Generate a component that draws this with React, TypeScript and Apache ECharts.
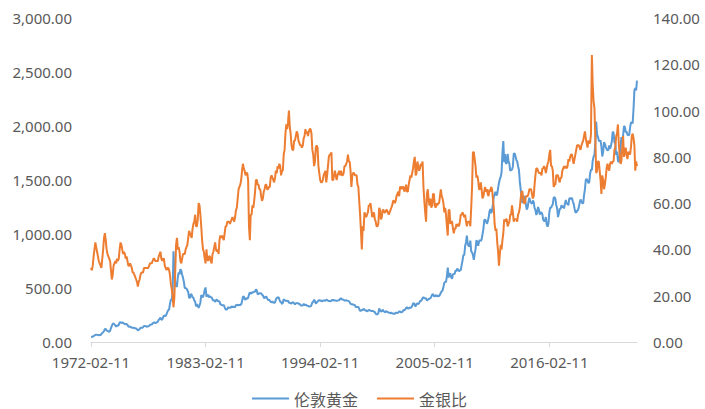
import React, { useEffect, useRef } from "react";
import * as echarts from "echarts";

// London gold price (USD/oz), monthly, from 1972-02 to 2024-07
const gold1970s = [
  48, 48, 49, 54, 60, 66, 68, 66, 65, 63, 64,
  65, 74, 84, 90, 102, 120, 120, 106, 103, 100, 94, 106,
  129, 150, 168, 172, 163, 154, 143, 154, 151, 158, 181, 183,
  176, 180, 178, 170, 167, 164, 166, 160, 144, 142, 143, 139,
  131, 131, 133, 128, 128, 125, 118, 106, 114, 117, 131, 133,
  132, 136, 148, 149, 147, 141, 143, 145, 150, 159, 161, 161,
  173, 178, 183, 175, 177, 183, 189, 206, 212, 227, 206, 208,
  227, 245, 242, 239, 257, 279, 295, 301, 355, 392, 392, 456,
];
const gold1980s = [
  840, 665, 554, 517, 513, 600, 644, 627, 674, 661, 623, 594,
  557, 500, 499, 495, 479, 461, 409, 410, 444, 437, 413, 410,
  384, 374, 330, 350, 334, 315, 339, 364, 435, 422, 414, 444,
  481, 505, 420, 432, 438, 413, 422, 416, 412, 394, 382, 388,
  371, 386, 394, 381, 377, 378, 348, 348, 341, 340, 341, 320,
  303, 299, 304, 324, 317, 317, 317, 330, 324, 326, 325, 322,
  345, 339, 346, 340, 342, 343, 348, 376, 418, 423, 398, 391,
  408, 401, 409, 438, 460, 450, 450, 461, 460, 465, 467, 487,
  477, 442, 444, 452, 451, 451, 438, 432, 413, 406, 420, 419,
  404, 388, 390, 384, 371, 368, 375, 365, 362, 367, 393, 409,
];
const gold1990s = [
  410, 417, 393, 374, 369, 352, 362, 395, 389, 381, 381, 378,
  383, 364, 363, 358, 357, 366, 368, 356, 349, 358, 360, 361,
  354, 354, 345, 338, 337, 340, 353, 340, 345, 344, 335, 334,
  329, 329, 330, 342, 367, 372, 392, 379, 355, 364, 374, 383,
  387, 382, 384, 377, 381, 385, 385, 380, 391, 389, 384, 379,
  379, 377, 382, 391, 385, 387, 386, 383, 383, 383, 386, 387,
  400, 405, 396, 393, 392, 385, 383, 387, 383, 381, 378, 369,
  355, 347, 352, 344, 344, 341, 324, 324, 323, 325, 306, 289,
  289, 297, 296, 308, 299, 292, 293, 284, 289, 296, 294, 291,
  287, 287, 286, 282, 277, 262, 256, 257, 265, 311, 293, 283,
];
const gold2000s = [
  284, 300, 286, 280, 275, 286, 282, 275, 273, 270, 266, 272,
  266, 262, 263, 261, 272, 270, 268, 273, 283, 283, 276, 275,
  282, 296, 294, 302, 314, 321, 313, 310, 319, 317, 319, 333,
  357, 359, 340, 328, 355, 356, 351, 360, 379, 379, 389, 407,
  414, 405, 406, 404, 384, 392, 398, 400, 406, 420, 439, 442,
  424, 423, 434, 429, 422, 430, 424, 437, 456, 470, 476, 510,
  549, 555, 557, 610, 690, 596, 633, 632, 598, 586, 628, 629,
  631, 665, 655, 680, 667, 655, 665, 665, 712, 754, 806, 803,
  889, 922, 985, 909, 888, 889, 939, 839, 829, 806, 761, 816,
  858, 943, 924, 890, 928, 946, 934, 949, 996, 1043, 1127, 1135,
];
const gold2010s = [
  1118, 1095, 1113, 1148, 1205, 1232, 1193, 1215, 1271, 1343, 1370, 1391,
  1356, 1372, 1424, 1474, 1510, 1529, 1572, 1756, 1860, 1665, 1739, 1652,
  1656, 1742, 1673, 1650, 1585, 1596, 1594, 1626, 1744, 1747, 1721, 1685,
  1671, 1627, 1593, 1487, 1414, 1343, 1286, 1347, 1349, 1316, 1275, 1225,
  1244, 1300, 1336, 1299, 1288, 1279, 1311, 1296, 1239, 1222, 1176, 1200,
  1250, 1227, 1179, 1198, 1199, 1181, 1131, 1117, 1125, 1157, 1086, 1068,
  1097, 1200, 1246, 1242, 1261, 1276, 1337, 1341, 1326, 1266, 1238, 1157,
  1192, 1234, 1231, 1267, 1246, 1260, 1236, 1283, 1314, 1280, 1282, 1265,
  1331, 1331, 1325, 1335, 1303, 1282, 1238, 1202, 1198, 1215, 1221, 1250,
  1291, 1320, 1300, 1285, 1284, 1359, 1413, 1500, 1510, 1495, 1470, 1480,
];
const gold2020s = [
  1560, 1597, 1592, 1680, 1715, 1732, 1846, 2040, 1922, 1900, 1866, 1858,
  1867, 1808, 1718, 1760, 1850, 1834, 1807, 1785, 1775, 1777, 1820, 1790,
  1817, 1856, 1947, 1937, 1849, 1837, 1732, 1764, 1681, 1665, 1726, 1798,
  1898, 1855, 1912, 2000, 1992, 1942, 1950, 1918, 1915, 1916, 1985, 2030,
  2034, 2023, 2160, 2330, 2350, 2330, 2420,
];

// Gold / silver ratio, monthly, same dates
const ratio1970s = [
  32, 31, 33, 37, 40, 43, 41, 39, 37, 35, 34,
  33, 32, 36, 40, 45, 47, 44, 40, 38, 37, 36, 35,
  31, 27, 29, 33, 34, 35, 34, 36, 35, 36, 40, 43,
  42, 40, 38, 39, 38, 36, 37, 35, 33, 33, 34, 33,
  32, 30, 30, 29, 28, 27, 26, 24, 26, 27, 29, 30,
  30, 30, 32, 32, 32, 32, 32, 32, 33, 34, 34, 34,
  35, 36, 36, 35, 35, 35, 35, 37, 38, 39, 36, 35,
  36, 36, 33, 32, 31, 32, 32, 31, 29, 25, 23, 20,
];
const ratio1980s = [
  15, 19, 30, 42, 45, 40, 41, 39, 35, 34, 36, 38,
  38, 38, 40, 41, 42, 45, 48, 47, 46, 45, 49, 51,
  52, 55, 50, 50, 53, 60, 59, 55, 50, 44, 40, 39,
  36, 34, 40, 36, 35, 37, 37, 35, 34, 38, 39, 41,
  43, 40, 39, 40, 38, 44, 46, 45, 46, 45, 44, 47,
  50, 50, 52, 52, 52, 51, 52, 53, 54, 53, 52, 54,
  57, 58, 62, 66, 67, 68, 70, 74, 77, 75, 74, 72,
  73, 73, 70, 50, 44, 55, 55, 59, 58, 61, 65, 70,
  70, 68, 68, 66, 66, 63, 61, 62, 65, 66, 68, 68,
  66, 66, 67, 67, 71, 72, 71, 70, 69, 71, 74, 73,
];
const ratio1990s = [
  76, 75, 77, 76, 72, 74, 74, 81, 83, 90, 94, 92,
  95, 100, 93, 90, 85, 83, 83, 87, 87, 89, 91, 90,
  87, 86, 85, 85, 84, 85, 88, 89, 92, 90, 91, 89,
  91, 92, 92, 90, 83, 81, 76, 78, 84, 85, 84, 76,
  73, 70, 69, 69, 70, 72, 73, 74, 69, 72, 76, 80,
  81, 81, 82, 70, 70, 72, 74, 72, 70, 72, 73, 74,
  72, 74, 72, 72, 73, 76, 76, 77, 78, 81, 78, 78,
  74, 67, 72, 73, 73, 72, 72, 72, 68, 67, 61, 55,
  48, 40, 50, 48, 56, 55, 54, 55, 56, 59, 59, 60,
  57, 54, 55, 56, 53, 52, 50, 50, 51, 58, 57, 53,
];
const ratio2000s = [
  54, 57, 57, 56, 56, 57, 57, 56, 55, 56, 57, 58,
  59, 61, 61, 60, 61, 63, 64, 65, 63, 67, 67, 66,
  67, 67, 65, 66, 68, 65, 65, 68, 70, 72, 71, 73,
  75, 78, 80, 72, 73, 78, 76, 74, 75, 77, 76, 78,
  67, 61, 56, 52, 64, 66, 61, 59, 62, 58, 59, 64,
  64, 59, 58, 60, 59, 60, 60, 63, 66, 63, 62, 60,
  56, 58, 55, 50, 46, 57, 57, 51, 52, 52, 49, 47,
  49, 49, 51, 50, 51, 50, 52, 55, 55, 56, 55, 54,
  55, 52, 50, 52, 52, 52, 50, 58, 67, 82, 82, 79,
  76, 71, 72, 70, 66, 66, 69, 66, 62, 63, 65, 67,
];
const ratio2010s = [
  65, 66, 64, 63, 66, 65, 67, 66, 62, 58, 51, 48,
  49, 43, 39, 33, 38, 42, 40, 44, 47, 53, 52, 53,
  53, 50, 51, 52, 55, 55, 59, 56, 52, 53, 53, 53,
  52, 55, 56, 58, 62, 65, 65, 61, 60, 60, 63, 63,
  63, 64, 66, 66, 66, 64, 62, 63, 68, 72, 75, 75,
  74, 73, 73, 73, 72, 75, 75, 76, 75, 73, 75, 77,
  78, 81, 83, 76, 76, 74, 67, 68, 68, 72, 72, 72,
  70, 69, 71, 71, 74, 75, 76, 75, 76, 75, 76, 79,
  78, 80, 81, 81, 79, 77, 79, 81, 83, 85, 85, 85,
  84, 83, 85, 86, 87, 89, 91, 88, 86, 84, 87, 86,
];
const ratio2020s = [
  86, 90, 124, 111, 104, 101, 88, 73, 74, 78, 78, 74,
  70, 64, 72, 70, 66, 68, 71, 75, 77, 75, 74, 77,
  78, 77, 78, 78, 83, 84, 89, 90, 94, 86, 81, 77,
  78, 84, 89, 80, 82, 84, 81, 79, 82, 82, 81, 84,
  89, 90, 88, 85, 74, 78, 76,
];

const goldSeries = [...gold1970s, ...gold1980s, ...gold1990s, ...gold2000s, ...gold2010s, ...gold2020s];
const ratioSeries = [...ratio1970s, ...ratio1980s, ...ratio1990s, ...ratio2000s, ...ratio2010s, ...ratio2020s];

const seriesNames = ["伦敦黄金", "金银比"];
const startYear = 1972;
const startMonth = 2;
const labelDay = "11";

const categories: string[] = goldSeries.map((_, i) => {
  const m = startMonth - 1 + i;
  const y = startYear + Math.floor(m / 12);
  const mm = (m % 12) + 1;
  return `${y}-${mm < 10 ? "0" + mm : mm}-${labelDay}`;
});

const FONT = "'Noto Sans', 'Noto Sans CJK SC', sans-serif";
const TEXT = "#595959";

export default function App() {
  const ref = useRef<HTMLDivElement>(null);
  useEffect(() => {
    document.body.style.margin = "0";
    if (!ref.current) return;
    const chart = echarts.init(ref.current, null, { renderer: "svg" });
    chart.setOption({
      animation: false,
      backgroundColor: "#ffffff",
      grid: { left: 91, right: 68, top: 18, bottom: 67 },
      legend: {
        data: seriesNames,
        left: 252,
        top: 390,
        padding: 0,
        icon: "rect",
        itemWidth: 37,
        itemHeight: 2,
        itemGap: 19,
        textStyle: { color: TEXT, fontSize: 16, fontFamily: "'Noto Sans CJK SC', sans-serif", lineHeight: 17 },
      },
      xAxis: {
        type: "category",
        data: categories,
        boundaryGap: false,
        axisLine: { lineStyle: { color: "#D9D9D9", width: 1 } },
        axisTick: { show: true, interval: 131, length: 5, lineStyle: { color: "#D9D9D9" } },
        axisLabel: {
          interval: 131,
          color: TEXT,
          fontSize: 15,
          fontFamily: FONT,
          margin: 12,
          lineHeight: 15,
        },
        splitLine: { show: false },
      },
      yAxis: [
        {
          type: "value",
          min: 0,
          max: 3000,
          interval: 500,
          axisLine: { show: false },
          axisTick: { show: false },
          splitLine: { show: false },
          axisLabel: {
            color: TEXT,
            fontSize: 15,
            fontFamily: FONT,
            margin: 19,
            formatter: (v: number) =>
              v.toLocaleString("en-US", { minimumFractionDigits: 2, maximumFractionDigits: 2 }),
          },
        },
        {
          type: "value",
          position: "right",
          min: 0,
          max: 140,
          interval: 20,
          axisLine: { show: false },
          axisTick: { show: false },
          splitLine: { show: false },
          axisLabel: {
            color: TEXT,
            fontSize: 15,
            fontFamily: FONT,
            margin: 16,
            formatter: (v: number) => v.toFixed(2),
          },
        },
      ],
      series: [
        {
          name: seriesNames[0],
          type: "line",
          data: goldSeries,
          yAxisIndex: 0,
          symbol: "none",
          color: "#5B9BD5",
          lineStyle: { color: "#5B9BD5", width: 2 },
        },
        {
          name: seriesNames[1],
          type: "line",
          data: ratioSeries,
          yAxisIndex: 1,
          symbol: "none",
          color: "#ED7D31",
          lineStyle: { color: "#ED7D31", width: 2 },
        },
      ],
    });
    return () => chart.dispose();
  }, []);
  return <div ref={ref} style={{ position: "absolute", left: 0, top: 0, width: 705, height: 409 }} />;
}
